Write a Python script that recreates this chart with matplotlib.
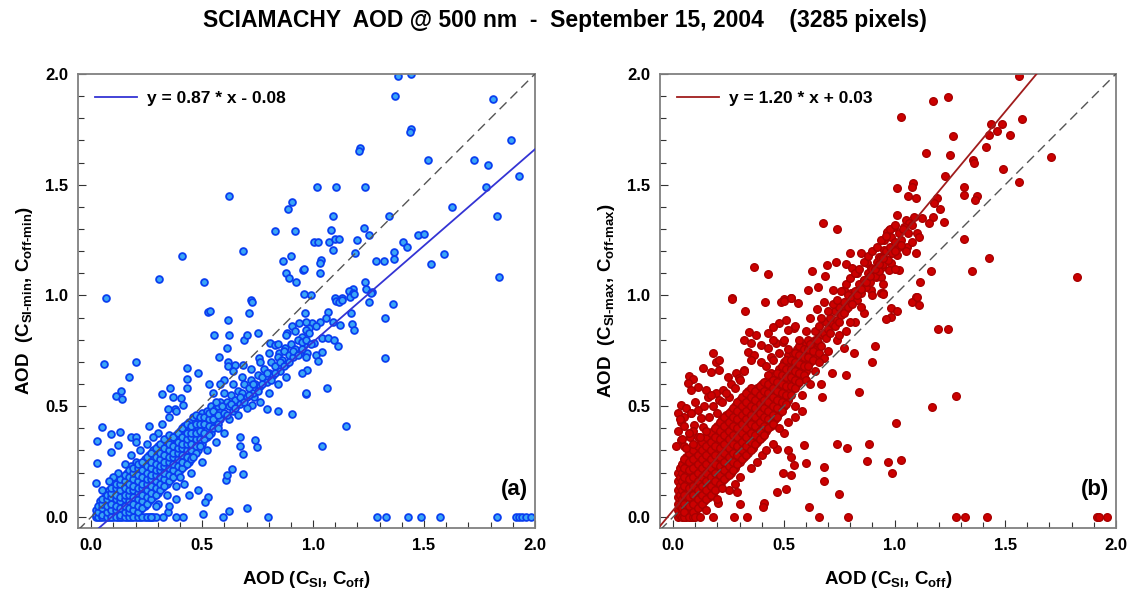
import numpy as np
import matplotlib
matplotlib.use("Agg")
import matplotlib.pyplot as plt
from matplotlib.ticker import MultipleLocator, FormatStrFormatter

plt.rcParams['font.family'] = ['Liberation Sans', 'DejaVu Sans']
plt.rcParams['font.weight'] = 'bold'
plt.rcParams['axes.labelweight'] = 'bold'
plt.rcParams['mathtext.fontset'] = 'custom'
plt.rcParams['mathtext.rm'] = 'Liberation Sans:bold'
plt.rcParams['mathtext.it'] = 'Liberation Sans:bold'
plt.rcParams['mathtext.bf'] = 'Liberation Sans:bold'
plt.rcParams['mathtext.default'] = 'rm'

TITLE = "SCIAMACHY  AOD @ 500 nm  -  September 15, 2004    (3285 pixels)"

# fit parameters (slope, intercept)
a_fit = (0.87, -0.08)
b_fit = (1.20, 0.03)

# panel (a): dense core, x -> list of y
a_core = {
    0.02: [0.0, 0.01, 0.03],
    0.04: [0.0, 0.02, 0.04, 0.07],
    0.06: [0.0, 0.01, 0.03, 0.06, 0.09],
    0.08: [0.0, 0.02, 0.05, 0.07, 0.10, 0.12],
    0.10: [0.0, 0.01, 0.04, 0.06, 0.09, 0.11, 0.14],
    0.12: [0.0, 0.02, 0.05, 0.08, 0.10, 0.13, 0.16],
    0.14: [0.0, 0.01, 0.04, 0.07, 0.09, 0.12, 0.15, 0.18],
    0.16: [0.0, 0.03, 0.06, 0.08, 0.11, 0.14, 0.17, 0.20],
    0.18: [0.0, 0.02, 0.05, 0.08, 0.10, 0.13, 0.16, 0.19, 0.23],
    0.20: [0.0, 0.04, 0.07, 0.10, 0.12, 0.15, 0.18, 0.21, 0.25],
    0.22: [0.0, 0.03, 0.06, 0.09, 0.12, 0.14, 0.17, 0.20, 0.23],
    0.24: [0.0, 0.05, 0.08, 0.11, 0.14, 0.16, 0.19, 0.22, 0.26],
    0.26: [0.0, 0.07, 0.10, 0.13, 0.16, 0.18, 0.21, 0.24, 0.28],
    0.28: [0.0, 0.09, 0.12, 0.15, 0.18, 0.20, 0.23, 0.26, 0.30],
    0.30: [0.06, 0.11, 0.14, 0.17, 0.20, 0.22, 0.25, 0.28, 0.32],
    0.32: [0.13, 0.16, 0.19, 0.22, 0.24, 0.27, 0.30],
    0.34: [0.10, 0.15, 0.18, 0.21, 0.24, 0.26, 0.29, 0.33],
    0.36: [0.17, 0.20, 0.23, 0.26, 0.28, 0.31, 0.35],
    0.38: [0.14, 0.19, 0.22, 0.25, 0.28, 0.30, 0.33, 0.37],
    0.40: [0.21, 0.24, 0.27, 0.30, 0.32, 0.35, 0.39],
    0.42: [0.23, 0.26, 0.29, 0.32, 0.34, 0.37, 0.41],
    0.44: [0.25, 0.28, 0.31, 0.34, 0.36, 0.39, 0.43],
    0.46: [0.28, 0.31, 0.34, 0.37, 0.40, 0.45],
    0.48: [0.30, 0.34, 0.37, 0.40, 0.43],
    0.50: [0.33, 0.37, 0.40, 0.43, 0.47],
    0.52: [0.36, 0.40, 0.44, 0.48],
    0.54: [0.38, 0.42, 0.46, 0.50],
    0.56: [0.41, 0.45, 0.49],
    0.58: [0.44, 0.48, 0.52],
}

# panel (a): second pass over the core, between the columns above
a_core2 = {
    0.03: [0.0, 0.02, 0.05],
    0.05: [0.0, 0.01, 0.04, 0.06, 0.08],
    0.07: [0.0, 0.02, 0.05, 0.08, 0.10],
    0.09: [0.0, 0.03, 0.06, 0.09, 0.11, 0.13],
    0.11: [0.0, 0.03, 0.05, 0.08, 0.10, 0.13, 0.15],
    0.13: [0.0, 0.01, 0.04, 0.07, 0.09, 0.12, 0.15, 0.17],
    0.15: [0.0, 0.02, 0.05, 0.08, 0.10, 0.13, 0.16, 0.19],
    0.17: [0.0, 0.02, 0.04, 0.07, 0.10, 0.12, 0.15, 0.18, 0.21],
    0.19: [0.0, 0.03, 0.06, 0.09, 0.12, 0.14, 0.17, 0.20, 0.22],
    0.21: [0.0, 0.02, 0.05, 0.08, 0.11, 0.13, 0.16, 0.19, 0.22, 0.24],
    0.23: [0.0, 0.04, 0.07, 0.10, 0.13, 0.15, 0.18, 0.21, 0.25],
    0.25: [0.0, 0.06, 0.09, 0.12, 0.15, 0.17, 0.20, 0.23, 0.27],
    0.27: [0.0, 0.08, 0.11, 0.14, 0.17, 0.19, 0.22, 0.25, 0.29],
    0.29: [0.05, 0.10, 0.13, 0.16, 0.19, 0.21, 0.24, 0.27, 0.31],
    0.31: [0.12, 0.15, 0.18, 0.21, 0.23, 0.26, 0.29, 0.33],
    0.33: [0.14, 0.17, 0.20, 0.23, 0.25, 0.28, 0.31, 0.35],
    0.35: [0.16, 0.19, 0.22, 0.25, 0.27, 0.30, 0.33, 0.37],
    0.37: [0.18, 0.21, 0.24, 0.27, 0.29, 0.32, 0.36],
    0.39: [0.20, 0.23, 0.26, 0.29, 0.31, 0.34, 0.38],
    0.41: [0.22, 0.25, 0.28, 0.31, 0.33, 0.36, 0.40],
    0.43: [0.24, 0.27, 0.30, 0.33, 0.35, 0.38, 0.42],
    0.45: [0.26, 0.30, 0.33, 0.36, 0.38, 0.41],
    0.47: [0.29, 0.32, 0.35, 0.38, 0.42, 0.46],
    0.49: [0.32, 0.35, 0.39, 0.42, 0.45],
    0.51: [0.35, 0.38, 0.42, 0.45],
    0.53: [0.37, 0.41, 0.44, 0.47],
    0.55: [0.40, 0.44, 0.48],
    0.57: [0.42, 0.46, 0.50],
}

# panel (a): scattered points
a_pts = [
    (0.62, 1.45), (0.905, 1.42), (0.886, 1.39), (0.83, 1.29), (0.92, 1.29), (0.41, 1.18),
    (0.685, 1.20), (0.865, 1.157), (0.90, 1.18), (0.955, 1.117), (0.876, 1.10), (0.89, 1.08),
    (0.924, 1.06), (0.305, 1.075), (0.51, 1.06), (0.065, 0.99), (0.96, 1.005), (0.99, 1.0),
    (0.72, 0.98), (1.383, 1.99), (1.44, 2.0), (1.368, 1.90), (1.81, 1.886), (1.44, 1.75),
    (1.435, 1.74), (1.89, 1.70), (1.21, 1.667), (1.205, 1.65), (1.517, 1.61), (1.724, 1.613),
    (1.79, 1.59), (1.927, 1.54), (1.78, 1.49), (1.016, 1.49), (1.105, 1.49), (1.235, 1.49),
    (1.625, 1.40), (1.83, 1.357), (1.09, 1.36), (1.34, 1.357), (1.08, 1.296), (1.23, 1.305),
    (1.25, 1.273), (1.006, 1.24), (1.02, 1.24), (1.07, 1.24), (1.10, 1.254), (1.115, 1.254),
    (1.20, 1.25), (1.088, 1.204), (1.036, 1.16), (1.033, 1.147), (1.03, 1.10), (0.96, 1.118),
    (1.19, 1.19), (1.285, 1.156), (1.32, 1.156), (1.366, 1.163), (1.366, 1.195), (1.406, 1.24),
    (1.423, 1.22), (1.475, 1.272), (1.50, 1.278), (1.533, 1.142), (1.59, 1.186), (1.84, 1.082),
    (1.236, 1.062), (1.237, 1.028), (1.267, 1.014), (1.18, 1.03), (1.16, 1.02), (1.18, 1.01),
    (1.10, 0.99), (1.13, 0.99), (1.362, 0.963), (1.324, 0.90), (1.324, 0.716), (1.062, 0.584),
    (1.147, 0.41), (1.042, 0.32),
    (1.288, 0.0), (1.33, 0.0), (1.43, 0.0), (1.488, 0.0), (1.573, 0.0), (1.83, 0.0),
    (1.915, 0.0), (1.928, 0.0), (1.943, 0.0), (1.96, 0.0), (1.98, 0.0),
    (1.103, 0.977), (1.118, 0.971), (1.13, 0.98), (1.166, 0.992), (1.186, 1.007), (1.251, 0.971),
    (1.262, 1.013), (0.964, 0.92), (1.065, 0.927), (1.057, 0.90), (1.088, 0.882), (0.997, 0.874),
    (1.03, 0.882), (0.982, 0.852), (1.012, 0.86), (1.121, 0.865), (1.175, 0.87), (1.183, 0.845),
    (1.171, 0.92), (1.042, 0.807), (1.065, 0.807), (1.092, 0.80), (1.112, 0.772), (1.005, 0.784),
    (0.959, 0.777), (0.974, 0.74), (1.012, 0.73), (1.02, 0.704), (1.042, 0.746), (0.974, 0.664),
    (0.95, 0.649), (0.97, 0.555),
    (0.057, 0.692), (0.20, 0.698), (0.17, 0.633), (0.133, 0.57), (0.11, 0.546), (0.14, 0.531),
    (0.05, 0.408), (0.027, 0.343), (0.024, 0.242), (0.02, 0.155), (0.09, 0.373), (0.13, 0.385),
    (0.088, 0.292), (0.12, 0.324), (0.18, 0.363), (0.20, 0.363), (0.318, 0.555), (0.356, 0.581),
    (0.43, 0.671), (0.48, 0.652), (0.43, 0.622), (0.43, 0.584), (0.368, 0.54), (0.406, 0.536),
    (0.345, 0.486), (0.376, 0.486), (0.414, 0.506), (0.527, 0.924), (0.536, 0.929), (0.618, 0.889),
    (0.724, 0.969), (0.709, 0.922), (0.554, 0.822), (0.62, 0.822), (0.69, 0.80), (0.70, 0.82),
    (0.75, 0.83), (0.612, 0.763), (0.574, 0.72), (0.615, 0.70), (0.618, 0.68), (0.648, 0.686),
    (0.686, 0.686), (0.755, 0.716), (0.807, 0.784), (0.83, 0.777), (0.845, 0.74), (0.875, 0.762),
    (0.906, 0.86), (0.936, 0.874), (0.966, 0.882), (0.883, 0.83), (0.951, 0.814), (0.966, 0.844),
    (0.966, 0.558), (0.906, 0.464), (0.842, 0.478), (0.792, 0.486), (0.724, 0.506), (0.735, 0.543),
    (0.67, 0.363), (0.67, 0.32), (0.686, 0.284), (0.74, 0.348), (0.747, 0.317), (0.686, 0.193),
    (0.633, 0.215), (0.607, 0.167), (0.61, 0.19), (0.527, 0.092), (0.512, 0.066), (0.70, 0.039),
    (0.622, 0.027), (0.595, 0.0), (0.505, 0.014), (0.795, 0.0), (0.413, 0.0), (0.383, 0.0),
    (0.345, 0.023), (0.323, 0.0), (0.292, 0.0), (0.27, 0.0),
    (0.60, 0.47), (0.61, 0.52), (0.62, 0.50), (0.63, 0.55), (0.64, 0.48), (0.65, 0.53),
    (0.66, 0.57), (0.67, 0.51), (0.68, 0.56), (0.69, 0.60), (0.70, 0.54), (0.71, 0.58),
    (0.72, 0.62), (0.73, 0.56), (0.74, 0.60), (0.75, 0.64), (0.76, 0.59), (0.77, 0.63),
    (0.78, 0.67), (0.79, 0.61), (0.80, 0.65), (0.81, 0.70), (0.82, 0.64), (0.83, 0.68),
    (0.84, 0.72), (0.85, 0.66), (0.86, 0.71), (0.87, 0.75), (0.88, 0.69), (0.89, 0.73),
    (0.90, 0.78), (0.91, 0.72), (0.92, 0.76), (0.93, 0.80), (0.94, 0.74), (0.95, 0.79),
    (0.60, 0.62), (0.64, 0.66), (0.58, 0.60), (0.55, 0.56), (0.53, 0.60), (0.57, 0.40),
    (0.62, 0.44), (0.66, 0.46), (0.70, 0.49), (0.76, 0.52), (0.80, 0.56), (0.84, 0.60),
    (0.88, 0.63), (0.52, 0.30), (0.56, 0.34), (0.60, 0.38), (0.45, 0.20), (0.50, 0.25),
    (0.42, 0.15), (0.48, 0.12), (0.38, 0.08), (0.35, 0.05), (0.44, 0.10), (0.40, 0.18),
    (0.46, 0.27), (0.30, 0.38), (0.32, 0.42), (0.25, 0.33), (0.28, 0.36), (0.22, 0.30),
    (0.18, 0.28), (0.15, 0.24), (0.12, 0.20), (0.10, 0.18), (0.26, 0.41), (0.35, 0.45),
    (0.38, 0.48), (0.20, 0.34), (0.08, 0.16), (0.05, 0.12),
    (0.59, 0.50), (0.61, 0.46), (0.63, 0.51), (0.65, 0.49), (0.67, 0.54), (0.69, 0.52),
    (0.71, 0.55), (0.73, 0.60), (0.75, 0.57), (0.77, 0.60), (0.79, 0.65), (0.81, 0.62),
    (0.83, 0.65), (0.85, 0.70), (0.87, 0.68), (0.89, 0.70), (0.91, 0.75), (0.93, 0.73),
    (0.95, 0.76), (0.97, 0.80), (0.99, 0.78), (0.56, 0.52), (0.60, 0.56), (0.64, 0.60),
    (0.68, 0.63), (0.72, 0.67), (0.76, 0.70), (0.80, 0.74), (0.84, 0.78), (0.88, 0.82),
    (0.92, 0.84), (0.97, 0.72), (0.98, 0.83),
]

# panel (b): dense core, x -> list of y
b_core = {
    0.02: [0.0, 0.03, 0.06, 0.09, 0.12, 0.16, 0.20],
    0.03: [0.01, 0.05, 0.10, 0.14, 0.18, 0.22],
    0.04: [0.0, 0.04, 0.08, 0.12, 0.16, 0.20, 0.24],
    0.06: [0.0, 0.03, 0.07, 0.11, 0.15, 0.19, 0.23, 0.27],
    0.08: [0.0, 0.04, 0.08, 0.12, 0.16, 0.20, 0.24, 0.28],
    0.10: [0.02, 0.06, 0.10, 0.14, 0.18, 0.22, 0.26, 0.30],
    0.12: [0.05, 0.09, 0.13, 0.17, 0.21, 0.25, 0.29, 0.33],
    0.14: [0.07, 0.11, 0.15, 0.19, 0.23, 0.27, 0.31, 0.35],
    0.16: [0.09, 0.13, 0.17, 0.21, 0.25, 0.29, 0.33, 0.37],
    0.18: [0.11, 0.15, 0.19, 0.23, 0.27, 0.31, 0.35, 0.39],
    0.20: [0.13, 0.17, 0.21, 0.25, 0.29, 0.33, 0.37, 0.41],
    0.22: [0.16, 0.20, 0.24, 0.28, 0.32, 0.36, 0.40, 0.44],
    0.24: [0.18, 0.22, 0.26, 0.30, 0.34, 0.38, 0.42, 0.46],
    0.26: [0.20, 0.24, 0.28, 0.32, 0.36, 0.40, 0.44, 0.48],
    0.28: [0.22, 0.26, 0.30, 0.34, 0.38, 0.42, 0.46, 0.50],
    0.30: [0.25, 0.29, 0.33, 0.37, 0.41, 0.45, 0.49, 0.53],
    0.32: [0.27, 0.31, 0.35, 0.39, 0.43, 0.47, 0.51],
    0.34: [0.29, 0.33, 0.37, 0.41, 0.45, 0.49, 0.53, 0.57],
    0.36: [0.31, 0.35, 0.39, 0.43, 0.47, 0.51, 0.55],
    0.38: [0.34, 0.38, 0.42, 0.46, 0.50, 0.54, 0.58],
    0.40: [0.36, 0.40, 0.44, 0.48, 0.52, 0.56, 0.60],
    0.42: [0.39, 0.43, 0.47, 0.51, 0.55, 0.59],
    0.44: [0.41, 0.45, 0.49, 0.53, 0.57, 0.61, 0.65],
    0.46: [0.44, 0.48, 0.52, 0.56, 0.60, 0.64],
    0.48: [0.47, 0.51, 0.55, 0.59, 0.63, 0.67],
    0.50: [0.50, 0.54, 0.58, 0.62, 0.66, 0.70],
    0.52: [0.53, 0.57, 0.61, 0.65, 0.69, 0.73],
    0.54: [0.58, 0.62, 0.66, 0.70, 0.74],
    0.56: [0.60, 0.64, 0.68, 0.72, 0.76],
    0.58: [0.63, 0.67, 0.71, 0.75],
    0.60: [0.66, 0.70, 0.74, 0.78],
    0.62: [0.70, 0.74, 0.78],
    0.64: [0.72, 0.76, 0.80],
}

# panel (b): second pass over the core
b_core2 = {
    0.05: [0.0, 0.02, 0.06, 0.10, 0.14, 0.18, 0.22, 0.26],
    0.07: [0.0, 0.05, 0.09, 0.13, 0.17, 0.21, 0.25, 0.29],
    0.09: [0.0, 0.02, 0.06, 0.10, 0.14, 0.18, 0.22, 0.26, 0.30],
    0.11: [0.04, 0.08, 0.12, 0.16, 0.20, 0.24, 0.28, 0.32],
    0.13: [0.06, 0.10, 0.14, 0.18, 0.22, 0.26, 0.30, 0.34],
    0.15: [0.08, 0.12, 0.16, 0.20, 0.24, 0.28, 0.32, 0.36],
    0.17: [0.10, 0.14, 0.18, 0.22, 0.26, 0.30, 0.34, 0.38],
    0.19: [0.12, 0.16, 0.20, 0.24, 0.28, 0.32, 0.36, 0.40],
    0.21: [0.15, 0.19, 0.23, 0.27, 0.31, 0.35, 0.39, 0.43],
    0.23: [0.17, 0.21, 0.25, 0.29, 0.33, 0.37, 0.41, 0.45],
    0.25: [0.19, 0.23, 0.27, 0.31, 0.35, 0.39, 0.43, 0.47],
    0.27: [0.21, 0.25, 0.29, 0.33, 0.37, 0.41, 0.45, 0.49],
    0.29: [0.24, 0.28, 0.32, 0.36, 0.40, 0.44, 0.48, 0.52],
    0.31: [0.26, 0.30, 0.34, 0.38, 0.42, 0.46, 0.50, 0.54],
    0.33: [0.28, 0.32, 0.36, 0.40, 0.44, 0.48, 0.52, 0.56],
    0.35: [0.30, 0.34, 0.38, 0.42, 0.46, 0.50, 0.54, 0.58],
    0.37: [0.33, 0.37, 0.41, 0.45, 0.49, 0.53, 0.57],
    0.39: [0.35, 0.39, 0.43, 0.47, 0.51, 0.55, 0.59],
    0.41: [0.37, 0.41, 0.45, 0.49, 0.53, 0.57, 0.61],
    0.43: [0.40, 0.44, 0.48, 0.52, 0.56, 0.60, 0.64],
    0.45: [0.42, 0.46, 0.50, 0.54, 0.58, 0.62],
    0.47: [0.45, 0.49, 0.53, 0.57, 0.61, 0.65],
    0.49: [0.48, 0.52, 0.56, 0.60, 0.64, 0.68],
    0.51: [0.51, 0.55, 0.59, 0.63, 0.67, 0.71],
    0.53: [0.55, 0.59, 0.63, 0.67, 0.71],
    0.55: [0.58, 0.62, 0.66, 0.70, 0.74],
    0.57: [0.61, 0.65, 0.69, 0.73, 0.77],
    0.59: [0.64, 0.68, 0.72, 0.76],
    0.61: [0.68, 0.72, 0.76, 0.80],
    0.63: [0.71, 0.75, 0.79],
    0.66: [0.74, 0.78, 0.82],
}

# panel (b): scattered points
b_pts = [
    (0.677, 1.326), (0.739, 1.30), (0.366, 1.127), (0.427, 1.096), (0.737, 1.153), (0.628, 1.109),
    (0.697, 1.136), (0.688, 1.09), (0.266, 0.989), (0.532, 0.99), (0.50, 0.983), (0.80, 1.19),
    (0.847, 1.193), (0.779, 1.142), (0.809, 1.123), (0.832, 1.10), (0.877, 1.145), (0.892, 1.123),
    (0.862, 1.07), (0.914, 1.085), (0.929, 1.175), (0.952, 1.205), (0.967, 1.28), (0.974, 1.296),
    (0.607, 1.025), (0.652, 1.04), (0.72, 1.025), (0.772, 1.025), (0.802, 1.01), (0.839, 1.025),
    (0.892, 1.025), (0.937, 1.01),
    (1.562, 1.992), (1.174, 1.88), (1.24, 1.896), (1.028, 1.805), (1.578, 1.797), (1.434, 1.776),
    (1.486, 1.773), (1.463, 1.744), (1.427, 1.726), (1.521, 1.726), (1.263, 1.72), (1.411, 1.67),
    (1.14, 1.645), (1.25, 1.636), (1.709, 1.625), (1.356, 1.61), (1.359, 1.60), (1.491, 1.572),
    (1.23, 1.541), (1.564, 1.511), (1.012, 1.487), (1.082, 1.506), (1.08, 1.49), (1.314, 1.49),
    (1.314, 1.455), (1.059, 1.448), (1.095, 1.442), (1.371, 1.448), (1.362, 1.433), (1.192, 1.439),
    (1.18, 1.419), (1.204, 1.392), (1.009, 1.363), (1.087, 1.356), (1.125, 1.35), (1.173, 1.354),
    (1.222, 1.333), (1.155, 1.327), (1.05, 1.341), (1.065, 1.326), (1.08, 1.318), (1.042, 1.311),
    (0.967, 1.288), (0.952, 1.25), (0.997, 1.311), (0.982, 1.265), (1.027, 1.25), (1.02, 1.22),
    (1.057, 1.22), (1.095, 1.19), (1.102, 1.28), (1.11, 1.265), (1.314, 1.256), (1.428, 1.169),
    (1.351, 1.112), (1.165, 1.112), (1.114, 1.06), (1.826, 1.085), (0.937, 1.175), (0.959, 1.16),
    (0.982, 1.145), (0.945, 1.13), (0.975, 1.115), (1.012, 1.183), (1.02, 1.115), (0.937, 1.085),
    (0.949, 1.01), (1.099, 0.992),
    (1.081, 0.971), (1.102, 0.992), (1.109, 0.957), (0.982, 0.942), (1.009, 0.931), (0.985, 0.902),
    (0.963, 0.893), (0.949, 1.007), (1.198, 0.85), (1.243, 0.85), (1.276, 0.546), (1.167, 0.495),
    (1.005, 0.426), (0.97, 0.247), (0.99, 0.20), (1.03, 0.257),
    (1.276, 0.0), (1.32, 0.0), (1.417, 0.0), (1.916, 0.0), (1.923, 0.0), (1.962, 0.0),
    (0.264, 0.984), (0.326, 0.931), (0.414, 0.969), (0.486, 0.969), (0.502, 0.975), (0.532, 0.987),
    (0.562, 0.965), (0.509, 0.889), (0.479, 0.874), (0.546, 0.852), (0.517, 0.844), (0.341, 0.837),
    (0.374, 0.822), (0.427, 0.829), (0.449, 0.859), (0.321, 0.80), (0.351, 0.784), (0.396, 0.777),
    (0.427, 0.762), (0.464, 0.784), (0.449, 0.80), (0.494, 0.791), (0.336, 0.746), (0.366, 0.731),
    (0.351, 0.709), (0.396, 0.701), (0.441, 0.724), (0.419, 0.682), (0.179, 0.739), (0.194, 0.701),
    (0.209, 0.709), (0.134, 0.671), (0.171, 0.656), (0.209, 0.664), (0.246, 0.633), (0.284, 0.649),
    (0.299, 0.626), (0.321, 0.664), (0.073, 0.637), (0.089, 0.622), (0.066, 0.604), (0.081, 0.573),
    (0.111, 0.588), (0.149, 0.573), (0.156, 0.543), (0.194, 0.558), (0.209, 0.528), (0.224, 0.573),
    (0.254, 0.543), (0.036, 0.506), (0.059, 0.491), (0.021, 0.468), (0.051, 0.453), (0.036, 0.43),
    (0.081, 0.468), (0.111, 0.483), (0.126, 0.446), (0.096, 0.416), (0.134, 0.408), (0.089, 0.386),
    (0.078, 0.363), (0.111, 0.363), (0.021, 0.386), (0.033, 0.348), (0.014, 0.318), (0.051, 0.318),
    (0.471, 0.306), (0.517, 0.302), (0.532, 0.272), (0.546, 0.235), (0.494, 0.20), (0.532, 0.19),
    (0.591, 0.325), (0.599, 0.242), (0.682, 0.227), (0.682, 0.164), (0.742, 0.328), (0.787, 0.313),
    (0.884, 0.328), (0.877, 0.254), (0.839, 0.563), (0.90, 0.701), (0.911, 0.772), (0.779, 0.641),
    (0.719, 0.651), (0.674, 0.54), (0.667, 0.60), (0.682, 0.716), (0.817, 0.739), (0.772, 0.762),
    (0.287, 0.111), (0.302, 0.057), (0.408, 0.062), (0.404, 0.044), (0.471, 0.114), (0.509, 0.125),
    (0.614, 0.047), (0.749, 0.104), (0.659, 0.0), (0.79, 0.0), (0.276, 0.0), (0.333, 0.0),
    (0.201, 0.065),
    (0.62, 0.78), (0.64, 0.84), (0.65, 0.80), (0.66, 0.86), (0.68, 0.83), (0.69, 0.88),
    (0.70, 0.85), (0.71, 0.90), (0.72, 0.87), (0.73, 0.93), (0.74, 0.89), (0.75, 0.95),
    (0.76, 0.91), (0.77, 0.97), (0.78, 0.94), (0.79, 1.00), (0.80, 0.96), (0.81, 0.99),
    (0.82, 1.02), (0.83, 0.98), (0.84, 1.05), (0.85, 1.01), (0.86, 1.07), (0.87, 1.04),
    (0.88, 1.10), (0.89, 1.06), (0.90, 1.12), (0.91, 1.09), (0.92, 1.15), (0.93, 1.11),
    (0.94, 1.17), (0.95, 1.14), (0.96, 1.20), (0.97, 1.16), (0.98, 1.22), (0.99, 1.19),
    (1.00, 1.24), (0.66, 0.70), (0.70, 0.75), (0.74, 0.80), (0.78, 0.84), (0.82, 0.88),
    (0.86, 0.92), (0.60, 0.62), (0.58, 0.55), (0.62, 0.60), (0.55, 0.50), (0.64, 0.66),
    (0.60, 0.84), (0.57, 0.80), (0.55, 0.86), (0.65, 0.94), (0.62, 0.90), (0.68, 0.97),
    (0.52, 0.76), (0.50, 0.80), (0.48, 0.74), (0.45, 0.71),
    (0.30, 0.18), (0.35, 0.22), (0.40, 0.28), (0.45, 0.33), (0.50, 0.38), (0.55, 0.45),
    (0.38, 0.25), (0.42, 0.30), (0.48, 0.40), (0.52, 0.43), (0.58, 0.48), (0.25, 0.12),
    (0.20, 0.08), (0.15, 0.03), (0.10, 0.0), (0.18, 0.0), (0.12, 0.0), (0.22, 0.13),
    (0.28, 0.15),
    (0.03, 0.44), (0.05, 0.41), (0.07, 0.38), (0.04, 0.35), (0.06, 0.31), (0.09, 0.33),
    (0.12, 0.36), (0.15, 0.39), (0.16, 0.45), (0.18, 0.50), (0.20, 0.47), (0.22, 0.52),
    (0.24, 0.56), (0.26, 0.60), (0.28, 0.58), (0.30, 0.62), (0.32, 0.66), (0.17, 0.55),
    (0.14, 0.50), (0.10, 0.52), (0.08, 0.47),
    (0.67, 0.77), (0.69, 0.81), (0.71, 0.83), (0.73, 0.86), (0.75, 0.88), (0.77, 0.92),
    (0.79, 0.95), (0.81, 0.96), (0.83, 1.00), (0.85, 1.03), (0.87, 1.06), (0.89, 1.09),
    (0.91, 1.12), (0.93, 1.14), (0.95, 1.17), (0.67, 0.90), (0.70, 0.93), (0.72, 0.96),
    (0.74, 0.98), (0.76, 1.02), (0.78, 1.05), (0.80, 1.08), (0.82, 1.10), (0.84, 1.12),
    (0.86, 1.15), (0.88, 1.18), (0.90, 1.20), (0.92, 1.22), (0.94, 1.25), (0.96, 1.27),
    (0.98, 1.30), (1.00, 1.32), (1.02, 1.28), (1.04, 1.30), (1.06, 1.28), (1.00, 1.20),
    (1.03, 1.23), (1.05, 1.20), (1.08, 1.24), (0.75, 0.82), (0.80, 0.88), (0.85, 0.95),
    (0.90, 1.00), (0.95, 1.05), (1.00, 1.12),
]


def unpack(cores, pts):
    xs, ys = [], []
    for core in cores:
        for x, col in core.items():
            for y in col:
                xs.append(x)
                ys.append(y)
    for x, y in pts:
        xs.append(x)
        ys.append(y)
    return np.array(xs), np.array(ys)


def panel(ax, cores, pts, fit, face, edge, size, ew, line_col, tag, ylab):
    x, y = unpack(cores, pts)
    ax.scatter(x, y, s=size, c=face, edgecolors=edge, linewidths=ew, zorder=2)
    lims = np.array([-0.06, 2.0])
    ax.plot(lims, lims, ls=(0, (7, 4)), color='#555555', lw=1.0, zorder=3)
    ax.plot(lims, fit[0] * lims + fit[1], color=line_col, lw=1.3, zorder=3,
            label="y = %.2f * x %s %.2f" % (fit[0], '-' if fit[1] < 0 else '+', abs(fit[1])))
    ax.set_xlim(-0.06, 2.0)
    ax.set_ylim(-0.05, 2.0)
    ax.xaxis.set_major_locator(MultipleLocator(0.5))
    ax.yaxis.set_major_locator(MultipleLocator(0.5))
    ax.xaxis.set_minor_locator(MultipleLocator(0.1))
    ax.yaxis.set_minor_locator(MultipleLocator(0.1))
    ax.xaxis.set_major_formatter(FormatStrFormatter('%.1f'))
    ax.yaxis.set_major_formatter(FormatStrFormatter('%.1f'))
    ax.tick_params(which='both', direction='in', labelsize=12, color='#333333', width=0.8)
    ax.tick_params(which='major', length=6, pad=7)
    ax.tick_params(which='minor', length=4)
    for sp in ax.spines.values():
        sp.set_color('#808080')
        sp.set_linewidth(1.3)
    ax.set_xlabel(r'AOD (C$_{\text{SI}}$, C$_{\text{off}}$)', fontsize=13.5,
                  fontweight='bold', labelpad=12)
    ax.set_ylabel(ylab, fontsize=13.5, fontweight='bold', labelpad=7)
    ax.legend(loc='upper left', frameon=False, fontsize=12.5, handlelength=2.4,
              handletextpad=0.6, borderaxespad=0.6)
    ax.text(0.985, 0.085, tag, transform=ax.transAxes, ha='right', va='center',
            fontsize=16, fontweight='bold')


fig = plt.figure(figsize=(11.3, 5.97), dpi=100)
ax1 = fig.add_axes([0.069, 0.1156, 0.4044, 0.7605])
ax2 = fig.add_axes([0.584, 0.1156, 0.4035, 0.7605])

panel(ax1, [a_core, a_core2], a_pts, a_fit, '#3aa6f6', '#0a3ef0', 24, 1.3, '#3434d4', '(a)',
      r'AOD  (C$_{\text{SI-min}}$, C$_{\text{off-min}}$)')
panel(ax2, [b_core, b_core2], b_pts, b_fit, '#cc0000', '#a80000', 30, 1.0, '#a01c1c', '(b)',
      r'AOD  (C$_{\text{SI-max}}$, C$_{\text{off-max}}$)')

fig.text(0.5, 0.966, TITLE, ha='center', va='center', fontsize=16.5, fontweight='bold')

fig.savefig('out.png', dpi=100)
